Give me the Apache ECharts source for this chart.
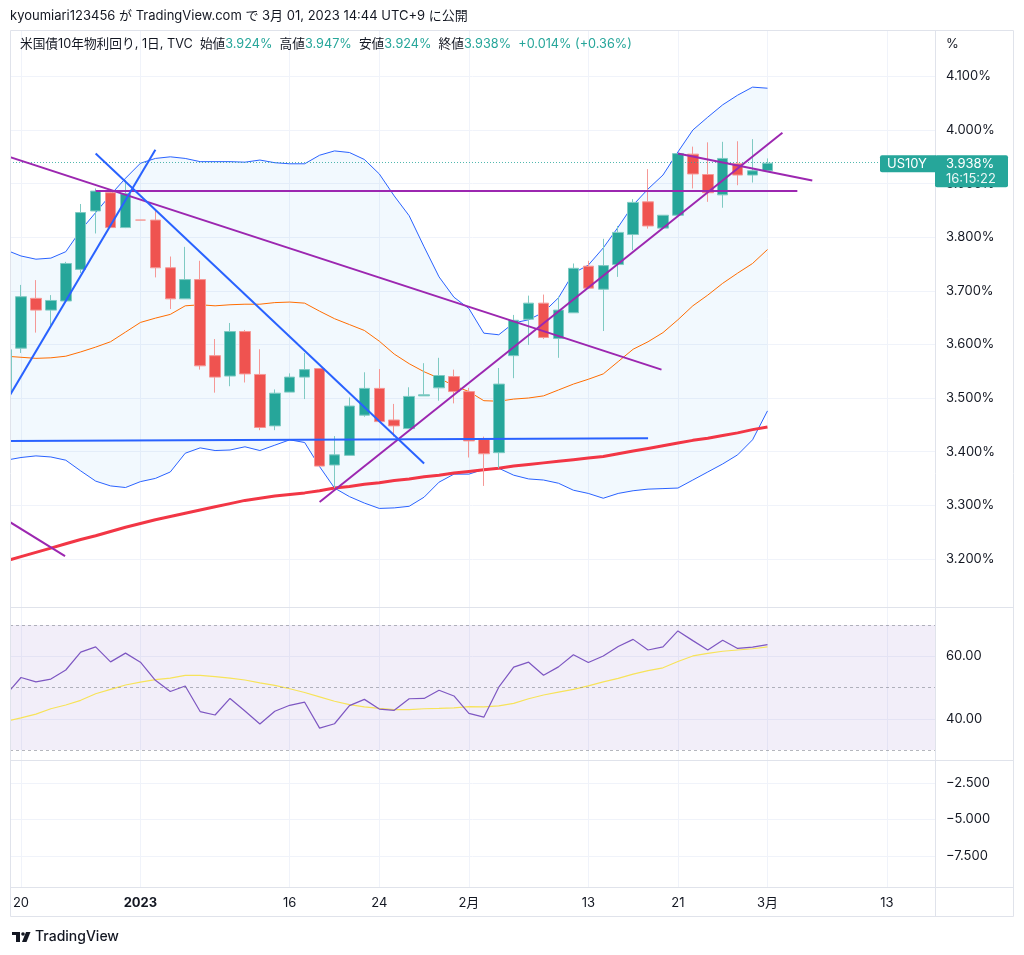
<!DOCTYPE html>
<html><head><meta charset="utf-8">
<script src="https://cdn.jsdelivr.net/npm/echarts@6/dist/echarts.min.js"></script>
<style>html,body{margin:0;padding:0;background:#fff}#main{width:1024px;height:955px}</style>
</head><body><div id="main"></div>
<script>
const FONT = "Inter, 'Noto Sans CJK JP', sans-serif";
const TXT = '#131722';
const GRIDC = '#f0f3fa';
const BORDER = '#e0e3eb';
const UP = '#26a69a', DOWN = '#ef5350';

const dates = ['12/19','12/20','12/21','12/22','12/23','12/27','12/28','12/29','12/30',
 '1/2','1/3','1/4','1/5','1/6','1/9','1/10','1/11','1/12','1/13','1/16','1/17','1/18','1/19','1/20',
 '1/23','1/24','1/25','1/26','1/27','1/30','1/31','2/1','2/2','2/3','2/6','2/7','2/8','2/9','2/10',
 '2/13','2/14','2/15','2/16','2/17','2/20','2/21','2/22','2/23','2/24','2/27','2/28','3/1'];
const openV = [3.509,3.593,3.686,3.664,3.681,3.740,3.849,3.883,3.818,3.832,3.832,3.743,3.685,3.721,3.579,3.541,3.624,3.544,3.448,3.511,3.539,3.555,3.375,3.393,3.468,3.518,3.459,3.443,3.504,3.519,3.540,3.512,3.423,3.398,3.579,3.647,3.677,3.611,3.659,3.746,3.703,3.749,3.805,3.866,3.817,3.841,3.955,3.917,3.879,3.937,3.916,3.924];
const closeV = [3.590,3.689,3.664,3.682,3.751,3.846,3.886,3.818,3.881,3.832,3.743,3.685,3.721,3.560,3.539,3.624,3.545,3.445,3.509,3.539,3.553,3.373,3.394,3.485,3.518,3.456,3.448,3.503,3.506,3.542,3.512,3.420,3.396,3.526,3.645,3.677,3.613,3.664,3.742,3.705,3.747,3.809,3.865,3.821,3.841,3.956,3.918,3.883,3.947,3.916,3.924,3.938];
const lowV = [3.506,3.584,3.622,3.636,3.681,3.733,3.807,3.817,3.817,3.832,3.725,3.666,3.685,3.553,3.510,3.522,3.529,3.440,3.440,3.511,3.498,3.373,3.332,3.393,3.465,3.456,3.428,3.443,3.504,3.495,3.490,3.389,3.336,3.369,3.537,3.599,3.610,3.575,3.659,3.705,3.625,3.726,3.776,3.816,3.817,3.841,3.891,3.866,3.855,3.897,3.902,3.924];
const highV = [3.593,3.711,3.720,3.692,3.754,3.862,3.891,3.886,3.907,3.832,3.851,3.764,3.782,3.756,3.610,3.640,3.627,3.591,3.516,3.546,3.584,3.556,3.429,3.501,3.548,3.554,3.489,3.520,3.565,3.575,3.553,3.519,3.428,3.556,3.655,3.691,3.693,3.689,3.751,3.756,3.797,3.821,3.871,3.927,3.841,3.956,3.969,3.977,3.978,3.979,3.983,3.947];
const bbUpper = [3.776,3.765,3.759,3.761,3.773,3.813,3.846,3.879,3.910,3.938,3.947,3.950,3.947,3.941,3.941,3.941,3.940,3.944,3.939,3.937,3.937,3.953,3.961,3.958,3.945,3.918,3.877,3.840,3.782,3.726,3.688,3.667,3.621,3.618,3.640,3.646,3.660,3.687,3.733,3.748,3.780,3.819,3.860,3.890,3.916,3.959,4.000,4.024,4.047,4.065,4.080,4.078];
const bbBasis = [3.578,3.576,3.574,3.575,3.578,3.586,3.595,3.605,3.623,3.641,3.649,3.656,3.672,3.674,3.672,3.674,3.675,3.675,3.678,3.679,3.677,3.662,3.648,3.637,3.626,3.606,3.582,3.564,3.549,3.537,3.523,3.512,3.495,3.494,3.498,3.500,3.504,3.515,3.526,3.535,3.545,3.568,3.591,3.605,3.622,3.646,3.672,3.692,3.714,3.733,3.751,3.777];
const bbLower = [3.384,3.389,3.392,3.390,3.384,3.364,3.345,3.336,3.333,3.344,3.350,3.362,3.397,3.407,3.402,3.403,3.409,3.402,3.412,3.422,3.417,3.372,3.332,3.316,3.304,3.294,3.295,3.298,3.315,3.343,3.358,3.358,3.367,3.369,3.356,3.349,3.347,3.341,3.328,3.322,3.313,3.322,3.327,3.330,3.331,3.332,3.347,3.362,3.377,3.394,3.422,3.476];
const ma200 = [3.196,3.204,3.212,3.220,3.228,3.236,3.243,3.251,3.259,3.266,3.273,3.279,3.285,3.291,3.297,3.303,3.309,3.313,3.317,3.320,3.323,3.327,3.332,3.335,3.339,3.342,3.346,3.349,3.353,3.356,3.360,3.363,3.366,3.369,3.373,3.376,3.379,3.382,3.385,3.388,3.391,3.396,3.401,3.406,3.411,3.416,3.421,3.425,3.430,3.435,3.441,3.446];
const rsi = [47.7,53.2,51.8,52.7,55.6,61.3,63.0,58.2,61.0,58.1,52.3,48.7,50.5,42.3,41.2,46.5,42.5,38.3,42.4,44.3,45.3,37.0,38.4,44.2,46.2,43.1,42.7,46.4,46.5,49.1,47.3,41.7,40.5,50.1,56.5,58.1,53.9,56.6,60.5,58.0,60.1,63.1,65.4,62.0,63.0,68.1,65.0,62.0,65.1,62.5,62.9,63.7];
const rsiMa = [39.2,40.3,41.5,43.2,44.4,45.9,48.0,49.4,50.8,51.7,52.5,53.0,53.9,53.9,53.5,53.0,52.4,51.5,50.7,49.6,48.4,47.0,45.6,44.5,43.8,43.3,42.9,42.9,43.2,43.3,43.5,43.9,43.8,44.1,44.9,46.4,47.6,48.5,49.4,50.5,51.8,52.9,54.3,55.4,56.3,58.3,60.1,60.9,61.6,62.0,62.4,63.0];

const priceTicks = [3.2,3.3,3.4,3.5,3.6,3.7,3.8,3.9,4.0,4.1];
const rsiTicks = [40,60];
const rsiBands = [70,50,30];
const lowerTicks = [-7.5,-5,-2.5];
const timeTickIdx = [1,9,19,25,31,39,45,51,59];
const timeTickLabels = ['20','2023','16','24','2月','13','21','3月','13'];

// drawn trend lines: [[dateIndex, yield], [dateIndex, yield]]
const purpleLines = [
  [[0,3.952],[43.9,3.553]],
  [[6,3.886],[53,3.886]],
  [[0,3.273],[3.95,3.205]],
  [[21,3.306],[52,3.995]],
  [[45,3.956],[54,3.906]]
];
const blueLines = [
  [[0,3.493],[10,3.963]],
  [[6,3.956],[28,3.378]],
  [[0,3.420],[43,3.425]]
];

const X_MIN = 0.2633, X_MAX = 62.22;
const xy = arr => arr.map((v,i)=>[i,v]);
const last = closeV.length - 1;

const chart = echarts.init(document.getElementById('main'));

function xAxisFor(g, showLabel){
  return {
    type:'value', gridIndex:g, min:X_MIN, max:X_MAX,
    axisLine:{show:false}, axisTick:{show:false, customValues:timeTickIdx},
    splitLine:{show:true, lineStyle:{color:GRIDC, width:1}},
    axisLabel:{show:showLabel, customValues:timeTickIdx, color:TXT, fontSize:13, fontFamily:FONT, margin:10,
      formatter:(v)=>{const k=timeTickIdx.indexOf(Math.round(v)); const s=k>=0?timeTickLabels[k]:''; return s==='2023'?'{b|'+s+'}':s;},
      rich:{b:{fontWeight:'bold', fontSize:13, fontFamily:FONT, color:TXT}}}
  };
}
function yAxisFor(g, min, max, ticks, fmt){
  return {
    type:'value', gridIndex:g, position:'right', min:min, max:max,
    axisLine:{show:false}, axisTick:{show:false, customValues:ticks},
    splitLine:{show:true, lineStyle:{color:GRIDC, width:1}},
    axisLabel:{customValues:ticks, formatter:fmt, color:TXT, fontSize:13, fontFamily:FONT, margin:11}
  };
}

const lineS = (data, color, width, z) => ({type:'line', xAxisIndex:0, yAxisIndex:0, data, symbol:'none', silent:true, z,
  lineStyle:{color, width}});

const series = [
  {type:'custom', xAxisIndex:0, yAxisIndex:0, z:1, silent:true, clip:true, data:[[1, bbBasis[1]]], encode:{x:0, y:1},
    renderItem:(params, api)=>{
      const pts = bbUpper.map((u,i)=>api.coord([i,u])).concat(bbLower.map((l,i)=>api.coord([i,l])).reverse());
      return {type:'polygon', shape:{points:pts}, style:{fill:'rgba(33,150,243,0.06)'}};
    }},
  lineS(xy(bbUpper), '#2962ff', 1, 2),
  lineS(xy(bbLower), '#2962ff', 1, 2),
  lineS(xy(bbBasis), '#ff6d00', 1, 2),
  lineS(xy(ma200), '#f23645', 3, 3),
  {type:'candlestick', xAxisIndex:0, yAxisIndex:0, z:4, barWidth:11, silent:true,
    data: dates.map((d,i)=>[i, openV[i], closeV[i], lowV[i], highV[i]]),
    encode:{x:0, y:[1,2,3,4]},
    itemStyle:{color:UP, color0:DOWN, borderColor:'#7fcac3', borderColor0:'#f59896', borderWidth:1},
    markLine:{symbol:['none','none'], silent:true, label:{show:false}, animation:false,
      lineStyle:{color:UP, type:[1,2], width:1, opacity:0.8}, data:[{yAxis:closeV[last]}]}
  },
  ...purpleLines.map(p=>lineS(p, '#9c27b0', 2, 5)),
  ...blueLines.map(p=>lineS(p, '#2962ff', 2, 5)),
  {type:'line', xAxisIndex:1, yAxisIndex:1, data:xy(rsi), symbol:'none', silent:true, z:3, lineStyle:{color:'#7e57c2', width:1.2},
    markArea:{silent:true, itemStyle:{color:'rgba(126,87,194,0.1)'}, data:[[{yAxis:rsiBands[2]},{yAxis:rsiBands[0]}]]},
    markLine:{symbol:['none','none'], silent:true, label:{show:false}, lineStyle:{color:'rgba(120,123,134,0.55)', type:[3,3], width:1},
      data: rsiBands.map(b=>({yAxis:b}))}
  },
  {type:'line', xAxisIndex:1, yAxisIndex:1, data:xy(rsiMa), symbol:'none', silent:true, z:2, lineStyle:{color:'#f7e35a', width:1.2}},
  {type:'line', xAxisIndex:2, yAxisIndex:2, data:[], symbol:'none'}
];

const chg = closeV[last]-closeV[last-1];
const pct = chg/closeV[last-1]*100;
const f3 = v=>v.toFixed(3)+'%';
const HF = '12.7px '+FONT;

const baseGraphics = [
  {id:'cover', type:'rect', shape:{x:0,y:30,width:10,height:860}, style:{fill:'#fff'}, z:99, silent:true},
  {id:'frame', type:'rect', shape:{x:10.5,y:30.5,width:1003,height:886}, style:{fill:null, stroke:BORDER, lineWidth:1}, z:100, silent:true},
  {id:'sep1', type:'line', shape:{x1:10,y1:607.5,x2:1014,y2:607.5}, style:{stroke:BORDER, lineWidth:1}, z:100, silent:true},
  {id:'sep2', type:'line', shape:{x1:10,y1:760.5,x2:1014,y2:760.5}, style:{stroke:BORDER, lineWidth:1}, z:100, silent:true},
  {id:'sep3', type:'line', shape:{x1:10,y1:887.5,x2:1014,y2:887.5}, style:{stroke:BORDER, lineWidth:1}, z:100, silent:true},
  {id:'sepv', type:'line', shape:{x1:935.5,y1:30,x2:935.5,y2:917}, style:{stroke:BORDER, lineWidth:1}, z:100, silent:true},
  {id:'h1', type:'text', style:{x:10, y:16, text:'kyoumiari123456 が TradingView.com で 3月 01, 2023 14:44 UTC+9 に公開',
     font:'13px '+FONT, fill:TXT, verticalAlign:'middle'}, z:100, silent:true},
  {id:'h2', type:'text', style:{x:20, y:44, verticalAlign:'middle', font:HF, fill:TXT,
     text:'{l|米国債10年物利回り, 1日, TVC  始値}{v|'+f3(openV[last])+'}{l|  高値}{v|'+f3(highV[last])+'}{l|  安値}{v|'+f3(lowV[last])+'}{l|  終値}{v|'+f3(closeV[last])+'}{v|  +'+chg.toFixed(3)+'% (+'+pct.toFixed(2)+'%)}',
     rich:{l:{fill:TXT, font:HF}, v:{fill:UP, font:HF}}}, z:100, silent:true},
  {id:'pct', type:'text', style:{x:946, y:44, text:'%', font:'13px '+FONT, fill:TXT, verticalAlign:'middle'}, z:100, silent:true},
  {id:'lg1', type:'rect', shape:{x:12,y:932,width:8,height:3}, style:{fill:TXT}, z:100, silent:true},
  {id:'lg2', type:'rect', shape:{x:16,y:932,width:4,height:10}, style:{fill:TXT}, z:100, silent:true},
  {id:'lg3', type:'circle', shape:{cx:23,cy:934,r:1.8}, style:{fill:TXT}, z:100, silent:true},
  {id:'lg4', type:'polygon', shape:{points:[[26,932],[30.5,932],[26.5,942],[22,942]]}, style:{fill:TXT}, z:100, silent:true},
  {id:'lgt', type:'text', style:{x:35, y:937, text:'TradingView', font:'500 14px '+FONT, fill:TXT, verticalAlign:'middle'}, z:100, silent:true}
];

chart.setOption({
  animation:false,
  textStyle:{fontFamily:FONT},
  grid:[
    {left:10, right:89, top:30, height:577, show:false},
    {left:10, right:89, top:608, height:152, show:false},
    {left:10, right:89, top:760, height:127, show:false}
  ],
  xAxis:[xAxisFor(0,false), xAxisFor(1,false), xAxisFor(2,true)],
  yAxis:[
    yAxisFor(0, 3.1101, 4.1866, priceTicks, v=>v.toFixed(3)+'%'),
    yAxisFor(1, 26.8, 75.44, rsiTicks, v=>v.toFixed(2)),
    yAxisFor(2, -9.623, -0.925, lowerTicks, v=>(v<0?'−':'')+Math.abs(v).toFixed(3))
  ],
  series,
  graphic:{elements:baseGraphics}
});

const yLast = chart.convertToPixel({xAxisIndex:0, yAxisIndex:0}, [X_MIN, closeV[last]])[1];
chart.setOption({graphic:{elements:[
  {id:'pl1', type:'rect', shape:{x:880, y:yLast-8, width:56, height:17, r:[2,0,0,2]}, style:{fill:UP}, z:110, silent:true},
  {id:'pl2', type:'rect', shape:{x:935, y:yLast-8, width:73, height:32, r:2}, style:{fill:UP}, z:110, silent:true},
  {id:'pt1', type:'text', style:{x:887, y:yLast+0.5, text:'US10Y', font:'13px '+FONT, fill:'#fff', verticalAlign:'middle'}, z:111, silent:true},
  {id:'pt2', type:'text', style:{x:946, y:yLast+0.5, text:f3(closeV[last]), font:'13px '+FONT, fill:'#fff', verticalAlign:'middle'}, z:111, silent:true},
  {id:'pt3', type:'text', style:{x:946, y:yLast+16, text:'16:15:22', font:'13px '+FONT, fill:'rgba(255,255,255,0.9)', verticalAlign:'middle'}, z:111, silent:true}
]}});
</script></body></html>
